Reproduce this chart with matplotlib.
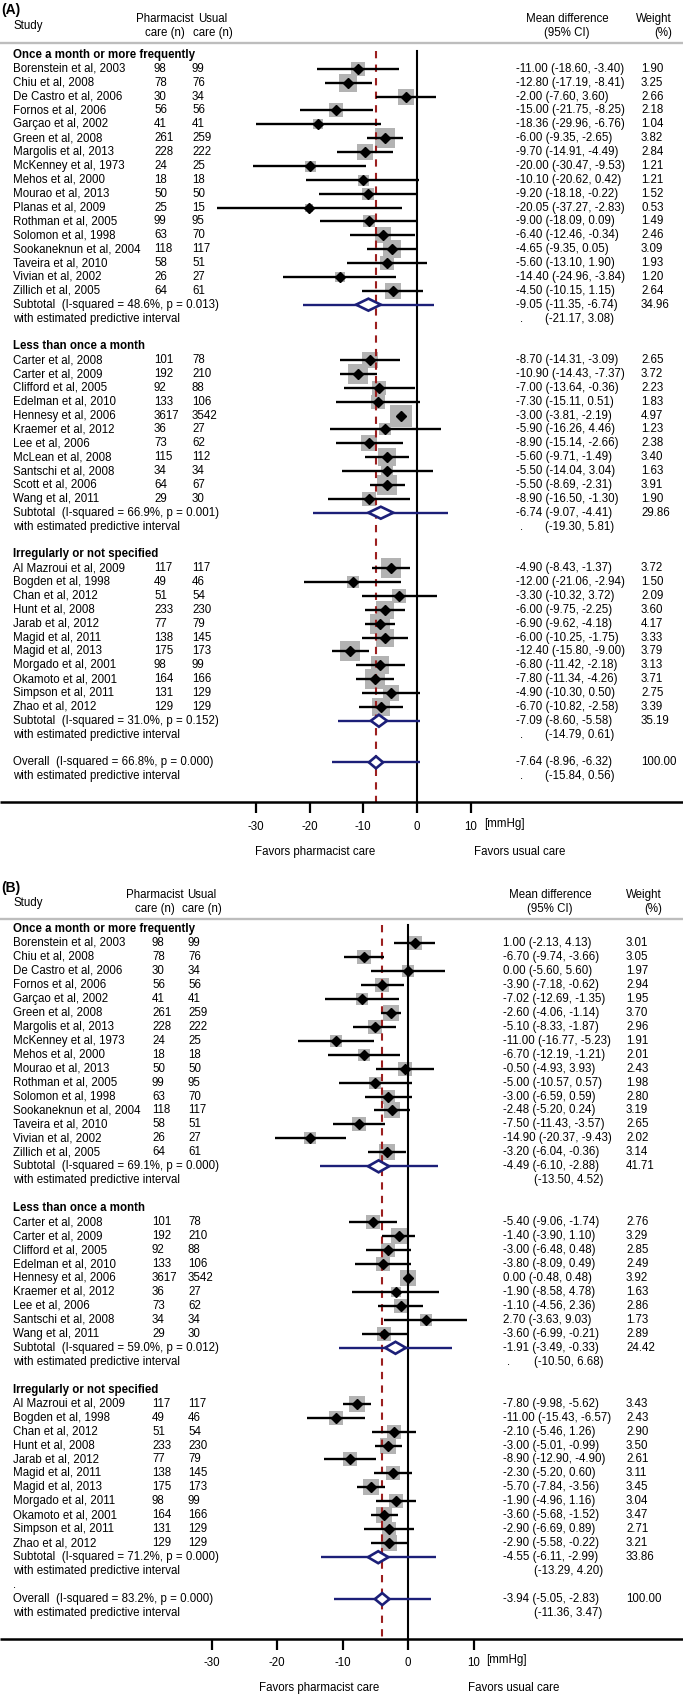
import matplotlib
matplotlib.use("Agg")
import matplotlib.pyplot as plt
from matplotlib import transforms
from matplotlib.patches import Polygon

plt.rcParams["font.family"] = ["Liberation Sans", "DejaVu Sans"]

GROUP_TITLES = ["Once a month or more frequently",
                "Less than once a month",
                "Irregularly or not specified"]

# (study, pharmacist n, usual n, mean diff, lo, hi, weight)
A_once = [
    ("Borenstein et al, 2003", 98, 99, -11.00, -18.60, -3.40, 1.90),
    ("Chiu et al, 2008", 78, 76, -12.80, -17.19, -8.41, 3.25),
    ("De Castro et al, 2006", 30, 34, -2.00, -7.60, 3.60, 2.66),
    ("Fornos et al, 2006", 56, 56, -15.00, -21.75, -8.25, 2.18),
    ("Garçao et al, 2002", 41, 41, -18.36, -29.96, -6.76, 1.04),
    ("Green et al, 2008", 261, 259, -6.00, -9.35, -2.65, 3.82),
    ("Margolis et al, 2013", 228, 222, -9.70, -14.91, -4.49, 2.84),
    ("McKenney et al, 1973", 24, 25, -20.00, -30.47, -9.53, 1.21),
    ("Mehos et al, 2000", 18, 18, -10.10, -20.62, 0.42, 1.21),
    ("Mourao et al, 2013", 50, 50, -9.20, -18.18, -0.22, 1.52),
    ("Planas et al, 2009", 25, 15, -20.05, -37.27, -2.83, 0.53),
    ("Rothman et al, 2005", 99, 95, -9.00, -18.09, 0.09, 1.49),
    ("Solomon et al, 1998", 63, 70, -6.40, -12.46, -0.34, 2.46),
    ("Sookaneknun et al, 2004", 118, 117, -4.65, -9.35, 0.05, 3.09),
    ("Taveira et al, 2010", 58, 51, -5.60, -13.10, 1.90, 1.93),
    ("Vivian et al, 2002", 26, 27, -14.40, -24.96, -3.84, 1.20),
    ("Zillich et al, 2005", 64, 61, -4.50, -10.15, 1.15, 2.64),
]
A_less = [
    ("Carter et al, 2008", 101, 78, -8.70, -14.31, -3.09, 2.65),
    ("Carter et al, 2009", 192, 210, -10.90, -14.43, -7.37, 3.72),
    ("Clifford et al, 2005", 92, 88, -7.00, -13.64, -0.36, 2.23),
    ("Edelman et al, 2010", 133, 106, -7.30, -15.11, 0.51, 1.83),
    ("Hennesy et al, 2006", 3617, 3542, -3.00, -3.81, -2.19, 4.97),
    ("Kraemer et al, 2012", 36, 27, -5.90, -16.26, 4.46, 1.23),
    ("Lee et al, 2006", 73, 62, -8.90, -15.14, -2.66, 2.38),
    ("McLean et al, 2008", 115, 112, -5.60, -9.71, -1.49, 3.40),
    ("Santschi et al, 2008", 34, 34, -5.50, -14.04, 3.04, 1.63),
    ("Scott et al, 2006", 64, 67, -5.50, -8.69, -2.31, 3.91),
    ("Wang et al, 2011", 29, 30, -8.90, -16.50, -1.30, 1.90),
]
A_irreg = [
    ("Al Mazroui et al, 2009", 117, 117, -4.90, -8.43, -1.37, 3.72),
    ("Bogden et al, 1998", 49, 46, -12.00, -21.06, -2.94, 1.50),
    ("Chan et al, 2012", 51, 54, -3.30, -10.32, 3.72, 2.09),
    ("Hunt et al, 2008", 233, 230, -6.00, -9.75, -2.25, 3.60),
    ("Jarab et al, 2012", 77, 79, -6.90, -9.62, -4.18, 4.17),
    ("Magid et al, 2011", 138, 145, -6.00, -10.25, -1.75, 3.33),
    ("Magid et al, 2013", 175, 173, -12.40, -15.80, -9.00, 3.79),
    ("Morgado et al, 2001", 98, 99, -6.80, -11.42, -2.18, 3.13),
    ("Okamoto et al, 2001", 164, 166, -7.80, -11.34, -4.26, 3.71),
    ("Simpson et al, 2011", 131, 129, -4.90, -10.30, 0.50, 2.75),
    ("Zhao et al, 2012", 129, 129, -6.70, -10.82, -2.58, 3.39),
]
# (I-squared, p, md, lo, hi, weight, pred lo, pred hi)
A_subtotals = [
    ("48.6%", "0.013", -9.05, -11.35, -6.74, 34.96, -21.17, 3.08),
    ("66.9%", "0.001", -6.74, -9.07, -4.41, 29.86, -19.30, 5.81),
    ("31.0%", "0.152", -7.09, -8.60, -5.58, 35.19, -14.79, 0.61),
]
A_overall = ("66.8%", "0.000", -7.64, -8.96, -6.32, 100.00, -15.84, 0.56)

B_once = [
    ("Borenstein et al, 2003", 98, 99, 1.00, -2.13, 4.13, 3.01),
    ("Chiu et al, 2008", 78, 76, -6.70, -9.74, -3.66, 3.05),
    ("De Castro et al, 2006", 30, 34, 0.00, -5.60, 5.60, 1.97),
    ("Fornos et al, 2006", 56, 56, -3.90, -7.18, -0.62, 2.94),
    ("Garçao et al, 2002", 41, 41, -7.02, -12.69, -1.35, 1.95),
    ("Green et al, 2008", 261, 259, -2.60, -4.06, -1.14, 3.70),
    ("Margolis et al, 2013", 228, 222, -5.10, -8.33, -1.87, 2.96),
    ("McKenney et al, 1973", 24, 25, -11.00, -16.77, -5.23, 1.91),
    ("Mehos et al, 2000", 18, 18, -6.70, -12.19, -1.21, 2.01),
    ("Mourao et al, 2013", 50, 50, -0.50, -4.93, 3.93, 2.43),
    ("Rothman et al, 2005", 99, 95, -5.00, -10.57, 0.57, 1.98),
    ("Solomon et al, 1998", 63, 70, -3.00, -6.59, 0.59, 2.80),
    ("Sookaneknun et al, 2004", 118, 117, -2.48, -5.20, 0.24, 3.19),
    ("Taveira et al, 2010", 58, 51, -7.50, -11.43, -3.57, 2.65),
    ("Vivian et al, 2002", 26, 27, -14.90, -20.37, -9.43, 2.02),
    ("Zillich et al, 2005", 64, 61, -3.20, -6.04, -0.36, 3.14),
]
B_less = [
    ("Carter et al, 2008", 101, 78, -5.40, -9.06, -1.74, 2.76),
    ("Carter et al, 2009", 192, 210, -1.40, -3.90, 1.10, 3.29),
    ("Clifford et al, 2005", 92, 88, -3.00, -6.48, 0.48, 2.85),
    ("Edelman et al, 2010", 133, 106, -3.80, -8.09, 0.49, 2.49),
    ("Hennesy et al, 2006", 3617, 3542, 0.00, -0.48, 0.48, 3.92),
    ("Kraemer et al, 2012", 36, 27, -1.90, -8.58, 4.78, 1.63),
    ("Lee et al, 2006", 73, 62, -1.10, -4.56, 2.36, 2.86),
    ("Santschi et al, 2008", 34, 34, 2.70, -3.63, 9.03, 1.73),
    ("Wang et al, 2011", 29, 30, -3.60, -6.99, -0.21, 2.89),
]
B_irreg = [
    ("Al Mazroui et al, 2009", 117, 117, -7.80, -9.98, -5.62, 3.43),
    ("Bogden et al, 1998", 49, 46, -11.00, -15.43, -6.57, 2.43),
    ("Chan et al, 2012", 51, 54, -2.10, -5.46, 1.26, 2.90),
    ("Hunt et al, 2008", 233, 230, -3.00, -5.01, -0.99, 3.50),
    ("Jarab et al, 2012", 77, 79, -8.90, -12.90, -4.90, 2.61),
    ("Magid et al, 2011", 138, 145, -2.30, -5.20, 0.60, 3.11),
    ("Magid et al, 2013", 175, 173, -5.70, -7.84, -3.56, 3.45),
    ("Morgado et al, 2011", 98, 99, -1.90, -4.96, 1.16, 3.04),
    ("Okamoto et al, 2001", 164, 166, -3.60, -5.68, -1.52, 3.47),
    ("Simpson et al, 2011", 131, 129, -2.90, -6.69, 0.89, 2.71),
    ("Zhao et al, 2012", 129, 129, -2.90, -5.58, -0.22, 3.21),
]
B_subtotals = [
    ("69.1%", "0.000", -4.49, -6.10, -2.88, 41.71, -13.50, 4.52),
    ("59.0%", "0.012", -1.91, -3.49, -0.33, 24.42, -10.50, 6.68),
    ("71.2%", "0.000", -4.55, -6.11, -2.99, 33.86, -13.29, 4.20),
]
B_overall = ("83.2%", "0.000", -3.94, -5.05, -2.83, 100.00, -11.36, 3.47)

XTICKS = [-30, -20, -10, 0, 10]

DPI = 100
W_PX, H_PX = 683, 1697
FS = 8.3
GRAY_SQ = "#b3b3b3"
NAVY = "#1c1f78"
DRED = "#9c1f1f"

LA = dict(px_top=0, px_bot=880, y0=55, s=13.87, zero_px=417, unit_px=5.37,
          label_x=1, name_x=13, nph_x=154, nus_x=192, val_x=516, wt_x=641,
          dot_dx=4, pred_dx=29, ph_hdr_x=165, us_hdr_x=213, md_hdr_x=567,
          wt_hdr_r=672, label_y=10, hdr1_y=19, hdr2_y=33, study_y=26,
          hline_y=43, vtop_y=51, axis_y=802, ticklab_y=827, favors_y=852,
          fav1_x=315, fav2_x=520, sq_k=10.0)
LB = dict(px_top=880, px_bot=1697, y0=929, s=13.96, zero_px=408, unit_px=6.55,
          label_x=1, name_x=13, nph_x=152, nus_x=188, val_x=503, wt_x=626,
          dot_dx=4, pred_dx=31, ph_hdr_x=155, us_hdr_x=202, md_hdr_x=550,
          wt_hdr_r=662, label_y=888, hdr1_y=895, hdr2_y=909, study_y=903,
          hline_y=919, vtop_y=925, axis_y=1639, ticklab_y=1663, favors_y=1688,
          fav1_x=319, fav2_x=514, sq_k=8.5)


def draw_panel(fig, L, panel_label, groups, subtotals, overall, pred_dots, gap_dot):
    bottom = 1 - L["px_bot"] / H_PX
    height = (L["px_bot"] - L["px_top"]) / H_PX
    ax = fig.add_axes([0, bottom, 1, height])
    ax.set_axis_off()
    xmin = -L["zero_px"] / L["unit_px"]
    xmax = (W_PX - L["zero_px"]) / L["unit_px"]
    ax.set_xlim(xmin, xmax)

    def row(px):
        return (px - L["y0"]) / L["s"]

    ax.set_ylim(row(L["px_bot"]), row(L["px_top"]))
    tr = transforms.blended_transform_factory(ax.transAxes, ax.transData)

    def txt(xpx, r, s, ha="left", fontsize=FS, **kw):
        ax.text(xpx / W_PX, r, s, transform=tr, ha=ha, va="center",
                fontsize=fontsize, clip_on=False, **kw)

    # header
    txt(L["label_x"], row(L["label_y"]), panel_label, fontweight="bold", fontsize=10)
    txt(L["name_x"] + 1, row(L["study_y"]), "Study")
    txt(L["ph_hdr_x"], row(L["hdr1_y"]), "Pharmacist", ha="center")
    txt(L["ph_hdr_x"], row(L["hdr2_y"]), "care (n)", ha="center")
    txt(L["us_hdr_x"], row(L["hdr1_y"]), "Usual", ha="center")
    txt(L["us_hdr_x"], row(L["hdr2_y"]), "care (n)", ha="center")
    txt(L["md_hdr_x"], row(L["hdr1_y"]), "Mean difference", ha="center")
    txt(L["md_hdr_x"], row(L["hdr2_y"]), "(95% CI)", ha="center")
    txt(L["wt_hdr_r"], row(L["hdr1_y"]), "Weight", ha="right")
    txt(L["wt_hdr_r"], row(L["hdr2_y"]), "(%)", ha="right")
    hl = row(L["hline_y"])
    ax.plot([xmin, xmax], [hl, hl], color="#bdbdbd", lw=1.7, solid_capstyle="butt")

    dh = 6.0 / L["s"]

    def summary(r, label, st, pdot):
        i2, p, md, lo, hi, w, plo, phi = st
        txt(L["name_x"], r, f"{label}  (I-squared = {i2}, p = {p})")
        ax.plot([plo, phi], [r, r], color=NAVY, lw=1.7, zorder=3, solid_capstyle="butt")
        ax.add_patch(Polygon([(lo, r), (md, r - dh), (hi, r), (md, r + dh)],
                             closed=True, facecolor="white", edgecolor=NAVY,
                             lw=1.9, zorder=4))
        txt(L["val_x"], r, f"{md:.2f} ({lo:.2f}, {hi:.2f})")
        txt(L["wt_x"], r, f"{w:.2f}")
        txt(L["name_x"], r + 1, "with estimated predictive interval")
        if pdot:
            txt(L["val_x"] + L["dot_dx"], r + 1, ".")
        txt(L["val_x"] + L["pred_dx"], r + 1, f"({plo:.2f}, {phi:.2f})")
        return r + 2

    r = 0
    for title, studies, st, pdot in zip(GROUP_TITLES, groups, subtotals, pred_dots):
        txt(L["name_x"], r, title, fontweight="bold")
        r += 1
        for name, nph, nus, md, lo, hi, w in studies:
            txt(L["name_x"], r, name)
            txt(L["nph_x"], r, str(nph))
            txt(L["nus_x"], r, str(nus))
            side_pt = L["sq_k"] * w ** 0.5 * 72.0 / DPI
            ax.scatter([md], [r], marker="s", s=side_pt ** 2, color=GRAY_SQ,
                       linewidths=0, zorder=1)
            ax.plot([lo, hi], [r, r], color="black", lw=1.7, zorder=5,
                    solid_capstyle="butt")
            ax.plot([md], [r], marker="D", color="black", ms=4.8, zorder=6)
            txt(L["val_x"], r, f"{md:.2f} ({lo:.2f}, {hi:.2f})")
            txt(L["wt_x"], r, f"{w:.2f}")
            r += 1
        r = summary(r, "Subtotal", st, pdot)
        r += 1
    if gap_dot:
        txt(L["name_x"], r - 1, ".")
    summary(r, "Overall", overall, pred_dots[-1])

    # reference lines and axis
    ar = row(L["axis_y"])
    vt = row(L["vtop_y"])
    ax.plot([0, 0], [vt, ar], color="black", lw=1.5, zorder=2)
    ax.plot([overall[2], overall[2]], [vt, ar], color=DRED, lw=1.5,
            ls=(0, (3.5, 3.0)), zorder=2)
    ax.plot([xmin, xmax], [ar, ar], color="black", lw=1.8, solid_capstyle="butt")
    tl = 11.0 / L["s"]
    for t in XTICKS:
        ax.plot([t, t], [ar, ar + tl], color="black", lw=1.6, solid_capstyle="butt")
        ax.text(t, row(L["ticklab_y"]), str(t), ha="center", va="center", fontsize=FS)
    x10 = L["zero_px"] + 10 * L["unit_px"]
    txt(x10 + 13, row(L["ticklab_y"] - 3), "[mmHg]")
    txt(L["fav1_x"], row(L["favors_y"]), "Favors pharmacist care", ha="center")
    txt(L["fav2_x"], row(L["favors_y"]), "Favors usual care", ha="center")
    return ax


fig = plt.figure(figsize=(W_PX / DPI, H_PX / DPI), dpi=DPI)
fig.patch.set_facecolor("white")
draw_panel(fig, LA, "(A)", [A_once, A_less, A_irreg], A_subtotals, A_overall,
           [True, True, True, True], False)
draw_panel(fig, LB, "(B)", [B_once, B_less, B_irreg], B_subtotals, B_overall,
           [False, True, False, False], True)
fig.savefig("out.png", dpi=DPI)
